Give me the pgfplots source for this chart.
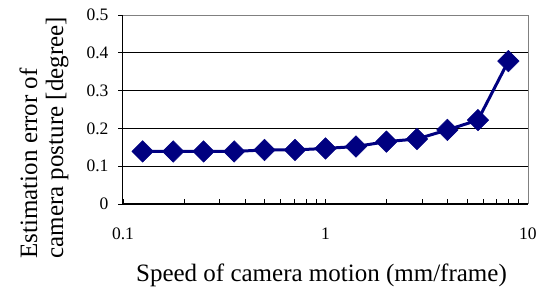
\documentclass[border=0pt]{standalone}
\usepackage{pgfplots}
\pgfplotsset{compat=1.18}
\usepackage{fontspec}
\setmainfont{Liberation Serif}
\definecolor{navy}{RGB}{0,0,128}
\begin{document}
\begin{tikzpicture}[x=1pt,y=1pt]
\begin{axis}[
  at={(0,0)}, anchor=south west,
  scale only axis, width=405pt, height=189pt,
  xmode=log, xmin=0.1, xmax=10, ymin=0, ymax=0.5,
  log basis x=10,
  xtick={0.1,1,10}, xticklabels={0.1,1,10},
  minor xtick={0.2,0.3,0.4,0.5,0.6,0.7,0.8,0.9,2,3,4,5,6,7,8,9},
  ytick={0,0.1,0.2,0.3,0.4,0.5},
  yticklabels={0,0.1,0.2,0.3,0.4,0.5},
  ymajorgrids, major grid style={black, line width=0.6pt},
  axis line style={draw=none},
  tick style={black, line width=0.6pt},
  major tick length=5pt, minor tick length=5pt,
  xtick pos=bottom, ytick pos=left,
  xtick align=inside, ytick align=outside,
  tick label style={font=\fontsize{17.5}{18}\selectfont},
  xticklabel style={yshift=-20pt},
  yticklabel style={xshift=-6pt},
  label style={font=\fontsize{25}{26}\selectfont},
  xlabel={Speed of camera motion (mm/frame)},
  xlabel style={at={(axis description cs:0.49,0)}, anchor=base, yshift=-78pt},
  ylabel={\begin{tabular}[b]{@{}l@{}}Estimation error of\\camera posture [degree]\end{tabular}},
  ylabel style={at={(axis description cs:-0.148,-0.307)}, anchor=base west, rotate=0},
  clip=false,
]
\addplot[navy, line width=3pt, mark=square*, mark size=7.6pt, mark options={fill=navy, draw=navy, line width=0.5pt, rotate=45}]
  coordinates {
  (0.125,0.139) (0.177,0.139) (0.25,0.139) (0.354,0.139) (0.5,0.143) (0.707,0.143)
  (1,0.147) (1.414,0.152) (2,0.165) (2.83,0.172) (4,0.196) (5.66,0.222) (8,0.378)
  };
\draw[gray, line width=0.8pt] (rel axis cs:0,1) -- (rel axis cs:1,1) -- (rel axis cs:1,0);
\draw[black, line width=1pt] (rel axis cs:0,1) -- (rel axis cs:0,0) -- (rel axis cs:1,0);
\end{axis}
\pgfresetboundingbox
\path[use as bounding box] (-123,-87) rectangle (416,204);
\end{tikzpicture}
\end{document}
